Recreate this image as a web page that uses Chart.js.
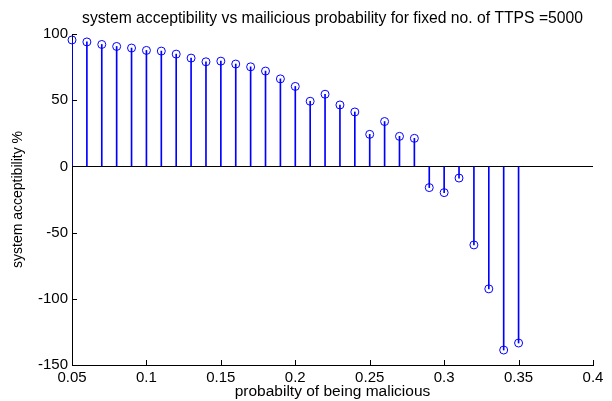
<!DOCTYPE html>
<html>
<head>
<meta charset="utf-8">
<script src="https://cdn.jsdelivr.net/npm/chart.js@4/dist/chart.umd.min.js"></script>
<style>
  html, body { margin: 0; padding: 0; background: #fff; }
  #wrap { width: 612px; height: 401px; }
</style>
</head>
<body>
<div id="wrap"><canvas id="myChart" width="612" height="401"></canvas></div>
<script>
const probs = [0.05, 0.06, 0.07, 0.08, 0.09, 0.10, 0.11, 0.12, 0.13, 0.14, 0.15, 0.16,
    0.17, 0.18, 0.19, 0.20, 0.21, 0.22, 0.23, 0.24, 0.25, 0.26, 0.27, 0.28,
    0.29, 0.30, 0.31, 0.32, 0.33, 0.34, 0.35];
const acceptability = [95.5, 94, 92.1, 90.6, 89.4, 87.6, 87.1, 84.8, 81.8, 79, 79.5, 77.3,
    75.2, 72, 66.1, 60.4, 49.2, 54.5, 46.4, 41.1, 24.2, 33.9, 22.7, 21.2,
    -16, -19.8, -8.8, -59.3, -92.5, -138.7, -133.4];
const xTicks = [0.05, 0.1, 0.15, 0.2, 0.25, 0.3, 0.35, 0.4];
const yTicks = [-150, -100, -50, 0, 50, 100];

const points = probs.map((p, i) => ({ x: p, y: acceptability[i] }));
const FONT = 'Liberation Sans, Arial, sans-serif';

// matlab style ticks pointing inwards
const innerTicks = {
    id: 'innerTicks',
    afterDraw(chart) {
        const c = chart.ctx;
        const { left, bottom } = chart.chartArea;
        const xs = chart.scales.x, ys = chart.scales.y;
        c.save();
        c.strokeStyle = '#000';
        c.lineWidth = 1;
        c.beginPath();
        xs.ticks.forEach(t => {
            const px = Math.round(xs.getPixelForValue(t.value)) + 0.5;
            c.moveTo(px, bottom);
            c.lineTo(px, bottom - 5);
        });
        ys.ticks.forEach(t => {
            const py = Math.round(ys.getPixelForValue(t.value)) + 0.5;
            c.moveTo(left, py);
            c.lineTo(left + 5, py);
        });
        c.stroke();
        c.restore();
    }
};

const ctx = document.getElementById('myChart').getContext('2d');
new Chart(ctx, {
    data: {
        datasets: [{
            type: 'bar',
            data: points,
            backgroundColor: '#0000ff',
            barThickness: 1,
            order: 2
        }, {
            type: 'scatter',
            data: points,
            pointStyle: 'circle',
            pointRadius: 4,
            pointBorderWidth: 1,
            pointBorderColor: '#0000ff',
            pointBackgroundColor: 'rgba(0,0,0,0)',
            clip: false,
            order: 1
        }]
    },
    options: {
        responsive: false,
        animation: false,
        layout: { padding: { top: 0, left: 0, right: 19, bottom: 0 } },
        scales: {
            x: {
                type: 'linear',
                min: 0.05,
                max: 0.4,
                offset: false,
                afterBuildTicks: (s) => { s.ticks = xTicks.map(v => ({ value: v })); },
                afterFit: (s) => { s.height = 36; },
                grid: { display: false, drawTicks: false },
                border: { display: true, color: '#000', width: 1 },
                ticks: {
                    color: '#000',
                    padding: 4,
                    maxRotation: 0,
                    font: { family: FONT, size: 15 },
                    callback: (v) => String(Number(v.toFixed(2)))
                },
                title: {
                    display: true,
                    text: 'probabilty of being malicious',
                    color: '#000',
                    font: { family: FONT, size: 15.5, lineHeight: 1 },
                    padding: { top: 0, bottom: 1.5 }
                }
            },
            y: {
                min: -150,
                max: 100,
                afterBuildTicks: (s) => { s.ticks = yTicks.map(v => ({ value: v })); },
                afterFit: (s) => { s.width = 72; },
                grid: {
                    drawTicks: false,
                    color: (c) => c.tick && c.tick.value === 0 ? '#000' : 'rgba(0,0,0,0)'
                },
                border: { display: true, color: '#000', width: 1 },
                ticks: {
                    color: '#000',
                    padding: 4,
                    font: { family: FONT, size: 15 }
                },
                title: {
                    display: true,
                    text: 'system acceptibility %',
                    color: '#000',
                    font: { family: FONT, size: 14, lineHeight: 1.2 },
                    padding: { top: 10, bottom: 0 }
                }
            }
        },
        plugins: {
            legend: { display: false },
            tooltip: { enabled: false },
            title: {
                display: true,
                fullSize: false,
                text: 'system acceptibility vs mailicious probability for fixed no. of TTPS =5000',
                color: '#000',
                font: { family: FONT, size: 15.7, weight: 'normal', lineHeight: 1.2 },
                padding: { top: 9, bottom: 6.16 }
            }
        }
    },
    plugins: [innerTicks]
});
</script>
</body>
</html>
